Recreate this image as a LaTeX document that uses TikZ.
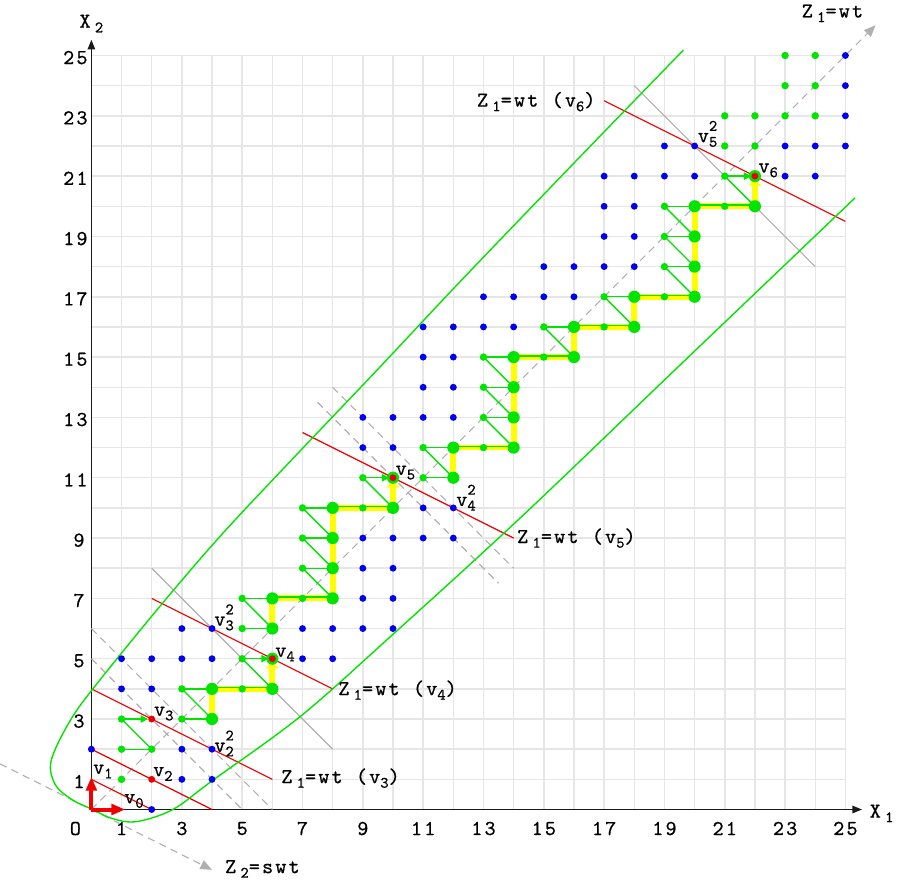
\documentclass[tikz,border=0pt]{standalone}
\usepackage{fontspec}
\setmainfont{lmmono10-regular.otf}[LetterSpace=10,FakeBold=0.6]
\usetikzlibrary{arrows.meta}
\definecolor{gridc}{HTML}{E6E6E6}
\definecolor{grn}{HTML}{00E400}
\definecolor{blu}{HTML}{0000EE}
\definecolor{redc}{HTML}{EE0000}
\definecolor{yel}{HTML}{FFFF00}
\definecolor{gry}{HTML}{B0B0B0}
\newcommand{\sbs}[1]{\raisebox{-0.5ex}{\fontsize{15}{16}\selectfont #1}}
\newcommand{\zsub}[1]{\hspace{0.2em}\sbs{#1}}
\newcommand{\vsq}[1]{v\rlap{\raisebox{1.25ex}{\fontsize{15}{16}\selectfont 2}}\raisebox{-0.5ex}{\fontsize{15}{16}\selectfont #1}}
\pgfdeclarelayer{bg}
\pgfsetlayers{bg,main}
\begin{document}
\begin{tikzpicture}[x=1cm,y=1cm,
  font=\fontsize{20}{23}\selectfont,
  bdot/.style={circle,fill=blu,inner sep=0pt,minimum size=6.5pt},
  gdot/.style={circle,fill=grn,inner sep=0pt,minimum size=7pt},
  Gdot/.style={circle,fill=grn,inner sep=0pt,minimum size=11.5pt},
  rdot/.style={circle,fill=redc,inner sep=0pt,minimum size=6.5pt},
  ypath/.style={yel,line width=5.5pt},
  yarrow/.style={yel,line width=5.5pt,-{Triangle[length=6pt,width=12pt]},shorten >=3pt},
  glink/.style={grn,line width=1.3pt},
  garrow/.style={grn,line width=1.3pt,-{Triangle[length=7pt,width=7pt]}},
  redline/.style={redc,line width=1.1pt},
  grayline/.style={gry,line width=1.1pt},
  graydash/.style={gry,line width=1.1pt,dash pattern=on 7pt off 5pt},
  lab/.style={inner sep=0pt}
]
\useasboundingbox (-3.03,-2.37) rectangle (26.81,26.84);

% ---------- dots ----------
\foreach \x/\y in {2/0,0/2,3/1,4/1,3/2,4/2,1/4,2/4,1/5,2/5,3/5,4/5,7/5,8/5,
  3/6,4/6,7/6,8/6,9/6,10/6,9/7,10/7,9/8,10/8,9/9,10/9,11/9,12/9,11/10,12/10,
  9/12,10/12,9/13,10/13,11/13,12/13,11/14,12/14,11/15,12/15,11/16,12/16,13/16,14/16,
  13/17,14/17,15/17,16/17,15/18,16/18,17/18,18/18,17/19,18/19,17/20,18/20,
  17/21,18/21,19/21,20/21,23/21,24/21,19/22,20/22,23/22,24/22,25/22,25/23,25/24,25/25}
  \node[bdot] (p-\x-\y) at (\x,\y) {};
\foreach \x/\y in {1/1,1/2,2/2,1/3,3/3,3/4,5/4,5/5,5/6,5/7,7/7,7/8,7/9,7/10,9/10,9/11,
  11/11,11/12,13/12,13/13,13/14,13/15,15/15,15/16,17/16,17/17,19/17,19/18,19/19,19/20,
  21/20,21/21,21/22,22/22,21/23,22/23,23/23,24/23,23/24,24/24,23/25,24/25}
  \node[gdot] (p-\x-\y) at (\x,\y) {};
\foreach \x/\y in {4/3,4/4,6/4,6/6,6/7,8/7,8/8,8/9,8/10,10/10,12/11,12/12,14/12,14/13,
  14/14,14/15,16/15,16/16,18/16,18/17,20/17,20/18,20/19,20/20,22/20}
  \node[Gdot] (p-\x-\y) at (\x,\y) {};
\foreach \x/\y in {6/5,10/11,22/21}
  \node[Gdot] (q-\x-\y) at (\x,\y) {};
\foreach \x/\y in {2/1,2/3,6/5,10/11,22/21}
  \node[rdot] (r-\x-\y) at (\x,\y) {};

\coordinate (O) at (0,0);
\coordinate (xend) at (25.55,0);
\coordinate (yend) at (0,25.52);
\coordinate (e0) at (1.12,0);
\coordinate (e1) at (0,1.08);
\coordinate (z1a) at (0,0);
\coordinate (z1b) at (26,26);
\coordinate (z2a) at (-3.03,1.515);
\coordinate (z2b) at (4,-2);

\begin{pgfonlayer}{bg}
% grid
\draw[gridc,line width=1.4pt] (0,0) grid (25,25);
% axes
\draw[black!90,line width=1.2pt,-{Triangle[length=9pt,width=7pt]}] (O) -- (xend);
\draw[black!90,line width=1.2pt,-{Triangle[length=9pt,width=7pt]}] (O) -- (yend);
% Z1 and Z2 directions
\draw[graydash,-{Triangle[length=11pt,width=9pt]}] (z1a) -- (z1b);
\draw[graydash,-{Triangle[length=11pt,width=9pt]}] (z2a) -- (z2b);
% level lines
\draw[redline] (0,1) -- (2,0);
\draw[redline] (0,2) -- (4,0);
\draw[redline] (0,4) -- (6,1);
\draw[redline] (2,7) -- (8,4);
\draw[redline] (7,12.5) -- (14,9);
\draw[redline] (17,23.5) -- (25,19.5);
\draw[grayline] (2,8) -- (8,2);
\draw[grayline] (18,24) -- (24,18);
\draw[graydash] (0,5) -- (5,0);
\draw[graydash] (0,6) -- (6,0);
\draw[graydash] (7.5,13.5) -- (13.5,7.5);
\draw[graydash] (8,14) -- (14,8);
% green region boundary
\draw[grn,line width=1.3pt] plot[smooth,tension=0.55] coordinates {
  (19.63,25.18) (16.2,21.64) (12.28,17.56) (9.5,14.6) (6.58,11.53) (4.26,9.05) (2.2,6.65)
  (0,3.94) (-0.7,2.95) (-1.22,1.95) (-1.36,1.35) (-1.15,0.75) (-0.6,0.3) (0,0.02)
  (0.7,-0.3) (1.5,-0.4) (2.7,0) (4.0,0.95) (6.92,3.08) (9.79,5.62) (14.2,9.65)
  (19.52,14.74) (25.32,20.28)};
% red unit arrows
\draw[redc,line width=3.8pt,-{Triangle[length=13pt,width=10pt]}] (O) -- (e0);
\draw[redc,line width=3.8pt,-{Triangle[length=13pt,width=10pt]}] (O) -- (e1);
% yellow path
\draw[ypath] (p-4-3.center) -- (p-4-4.center) -- (p-6-4.center);
\draw[yarrow] (p-6-4.center) -- (q-6-5.center);
\draw[ypath] (p-6-6.center) -- (p-6-7.center) -- (p-8-7.center) -- (p-8-10.center) -- (p-10-10.center);
\draw[yarrow] (p-10-10.center) -- (q-10-11.center);
\draw[ypath] (p-12-11.center) -- (p-12-12.center) -- (p-14-12.center) -- (p-14-15.center)
  -- (p-16-15.center) -- (p-16-16.center) -- (p-18-16.center) -- (p-18-17.center)
  -- (p-20-17.center) -- (p-20-20.center) -- (p-22-20.center);
\draw[yarrow] (p-22-20.center) -- (q-22-21.center);
% green lines along the horizontal yellow steps
\begin{scope}[transform canvas={yshift=1.2pt}]
\foreach \a/\b in {4-4/6-4,6-7/8-7,8-10/10-10,12-12/14-12,14-15/16-15,16-16/18-16,18-17/20-17,20-20/22-20}
  \draw[glink] (p-\a.center) -- (p-\b.center);
\end{scope}
% green links
\foreach \a/\b in {1-2/2-2,1-3/2-2,3-3/4-3,3-4/4-3,3-4/4-4,5-5/6-4,5-6/6-6,5-7/6-6,5-7/6-7,
  7-8/8-7,7-8/8-8,7-9/8-8,7-9/8-9,7-10/8-9,7-10/8-10,9-11/10-10,11-11/12-11,11-12/12-11,
  11-12/12-12,13-13/14-12,13-13/14-13,13-14/14-13,13-14/14-14,13-15/14-14,13-15/14-15,
  15-16/16-15,15-16/16-16,17-17/18-16,17-17/18-17,19-18/20-17,19-18/20-18,19-19/20-18,
  19-19/20-19,19-20/20-19,19-20/20-20,21-21/22-20}
  \draw[glink] (p-\a.center) -- (p-\b.center);
% green arrows
\draw[garrow] (p-1-3.center) -- (r-2-3);
\draw[garrow] (p-5-5.center) -- (r-6-5);
\draw[garrow] (p-9-11.center) -- (r-10-11);
\draw[garrow] (p-21-21.center) -- (r-22-21);
\end{pgfonlayer}

% ---------- tick labels ----------
\node[lab] (xtO) at (-0.53,-0.63) {O};
\foreach \k in {1,3,...,25} \node[lab] (xt\k) at (\k,-0.63) {\k};
\foreach \k in {1,3,5,7,9} \node[lab,anchor=east] (yt\k) at (-0.22,\k-0.07) {\k};
\foreach \k in {11,13,...,25} \node[lab,anchor=east] (yt\k) at (-0.12,\k-0.07) {\k};
\node[lab] (X1) at (26.2,-0.13) {X\zsub{1}};
\node[lab] (X2) at (0.0,26.06) {X\zsub{2}};

% ---------- point labels ----------
\node[lab] (Lv0) at (1.41,0.28) {v\sbs{0}};
\node[lab] (Lv1) at (0.38,1.26) {v\sbs{1}};
\node[lab] (Lv2) at (2.37,1.18) {v\sbs{2}};
\node[lab] (Lv3) at (2.4,3.18) {v\sbs{3}};
\node[lab] (Lv4) at (6.42,5.14) {v\sbs{4}};
\node[lab] (Lv5) at (10.41,11.17) {v\sbs{5}};
\node[lab] (Lv6) at (22.44,21.19) {v\sbs{6}};
\node[lab] (Lw2) at (4.4,2.19) {\vsq{2}};
\node[lab] (Lw3) at (4.4,6.37) {\vsq{3}};
\node[lab] (Lw4) at (12.42,10.34) {\vsq{4}};
\node[lab] (Lw5) at (20.43,22.4) {\vsq{5}};

% ---------- line labels ----------
\node[lab,anchor=west] (Z3) at (6.29,1.04) {Z\zsub{1}=wt (v\sbs{3})};
\node[lab,anchor=west] (Z4) at (8.18,3.96) {Z\zsub{1}=wt (v\sbs{4})};
\node[lab,anchor=west] (Z5) at (14.11,9.0) {Z\zsub{1}=wt (v\sbs{5})};
\node[lab,anchor=east] (Z6) at (16.72,23.47) {Z\zsub{1}=wt (v\sbs{6})};
\node[lab] (Z1lab) at (24.57,26.4) {Z\zsub{1}=wt};
\node[lab] (Z2lab) at (5.67,-1.97) {Z\zsub{2}=swt};
\end{tikzpicture}
\end{document}
